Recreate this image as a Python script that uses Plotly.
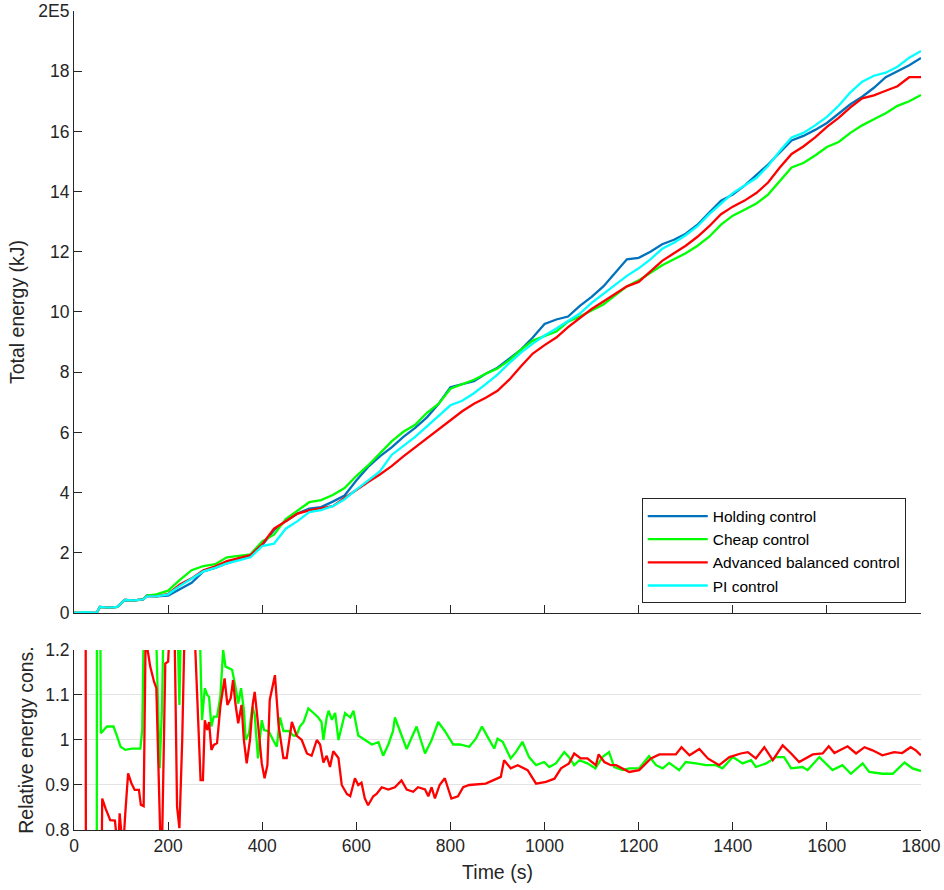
import plotly.graph_objects as go

# ---------------- data ----------------
# top panel: total energy in units of 1e4 kJ
t_top = [0, 25, 48, 55, 75, 92, 108, 128, 147, 155, 175] + list(range(200, 1801, 25))

holding = [0, 0, 0, 0.2, 0.18, 0.2, 0.43, 0.42, 0.45, 0.58, 0.55,
           0.58, 0.8, 1.0, 1.38, 1.5, 1.65, 1.78, 1.9, 2.25, 2.75, 3.05, 3.3, 3.47,
           3.52, 3.7, 3.9, 4.4, 4.85, 5.2, 5.5, 5.85, 6.15, 6.5, 6.95, 7.5, 7.6,
           7.7, 7.95, 8.15, 8.45, 8.75, 9.15, 9.6, 9.75, 9.85, 10.2, 10.5, 10.85,
           11.3, 11.75, 11.8, 12.0, 12.25, 12.4, 12.6, 12.9, 13.3, 13.7, 13.9,
           14.2, 14.55, 14.9, 15.3, 15.7, 15.85, 16.05, 16.28, 16.6, 16.9, 17.15,
           17.45, 17.8, 18.0, 18.2, 18.44]
cheap = [0, 0, 0, 0.2, 0.18, 0.2, 0.43, 0.42, 0.45, 0.58, 0.62,
         0.74, 1.1, 1.42, 1.56, 1.62, 1.85, 1.9, 1.95, 2.38, 2.6, 3.12, 3.4, 3.68,
         3.75, 3.92, 4.15, 4.55, 4.9, 5.3, 5.7, 6.02, 6.25, 6.65, 6.95, 7.45, 7.6,
         7.75, 7.95, 8.12, 8.4, 8.75, 9.05, 9.2, 9.35, 9.68, 9.85, 10.05, 10.25,
         10.55, 10.85, 11.05, 11.3, 11.55, 11.75, 11.95, 12.2, 12.5, 12.9, 13.2,
         13.4, 13.6, 13.9, 14.35, 14.8, 14.95, 15.2, 15.48, 15.65, 15.95, 16.2,
         16.4, 16.6, 16.85, 17.0, 17.21]
advanced = [0, 0, 0, 0.2, 0.18, 0.2, 0.43, 0.42, 0.45, 0.55, 0.55,
            0.63, 0.95, 1.15, 1.42, 1.55, 1.72, 1.82, 1.92, 2.28, 2.8, 3.05, 3.3, 3.41,
            3.48, 3.55, 3.82, 4.1, 4.35, 4.6, 4.88, 5.2, 5.5, 5.8, 6.1, 6.4, 6.7,
            6.95, 7.15, 7.38, 7.75, 8.2, 8.62, 8.9, 9.15, 9.5, 9.8, 10.1, 10.35,
            10.6, 10.85, 11.0, 11.35, 11.7, 11.95, 12.2, 12.5, 12.85, 13.25, 13.5,
            13.7, 13.95, 14.3, 14.8, 15.25, 15.5, 15.8, 16.15, 16.45, 16.8, 17.1,
            17.2, 17.35, 17.5, 17.8, 17.8]
pi_ctrl = [0, 0.03, 0, 0.2, 0.18, 0.2, 0.43, 0.42, 0.45, 0.55, 0.55,
           0.62, 0.9, 1.15, 1.38, 1.5, 1.65, 1.75, 1.85, 2.22, 2.3, 2.8, 3.05, 3.35,
           3.42, 3.55, 3.78, 4.1, 4.4, 4.7, 5.25, 5.55, 5.85, 6.2, 6.55, 6.9, 7.05,
           7.3, 7.6, 7.92, 8.3, 8.65, 8.95, 9.22, 9.45, 9.7, 9.95, 10.3, 10.6,
           10.9, 11.2, 11.45, 11.75, 12.1, 12.3, 12.55, 12.85, 13.25, 13.6, 13.95,
           14.2, 14.45, 14.85, 15.35, 15.8, 15.95, 16.2, 16.48, 16.85, 17.3, 17.65,
           17.85, 17.95, 18.15, 18.45, 18.67]

# bottom panel: relative energy consumption
t_rel_adv = [24, 25.5, 55, 60, 67, 77, 87, 89, 95, 97, 101, 106, 109, 115, 122, 129, 138,
             142, 148, 153, 155, 162, 170, 175, 184, 187, 194, 200, 206, 213, 219, 224,
             230, 236, 254, 262, 269, 274, 278, 283, 287, 292, 297, 304, 311, 320, 326,
             333, 338, 343, 349, 356, 361, 367, 374, 380, 384, 391, 399, 405, 411, 416,
             421, 427, 435, 445, 452, 463, 473, 484, 495, 505, 516, 523, 530, 537, 544,
             551, 562, 569, 580, 587, 597, 604, 611, 618, 625, 636, 643, 654, 668, 682,
             696, 707, 721, 731, 746, 753, 760, 767, 777, 788, 802, 816, 827, 840, 875,
             897, 907, 914, 928, 943, 964, 982, 1003, 1021, 1035, 1052, 1063, 1077, 1091,
             1109, 1115, 1127, 1141, 1152, 1180, 1201, 1226, 1244, 1279, 1291, 1308, 1329,
             1347, 1371, 1393, 1417, 1432, 1449, 1467, 1485, 1506, 1524, 1541, 1570, 1591,
             1604, 1616, 1644, 1662, 1680, 1697, 1718, 1743, 1760, 1778, 1789, 1800]
rel_adv = [2.5, 0.3, 0.3, 0.87, 0.848, 0.822, 0.821, 0.80, 0.78, 0.837, 0.79, 0.785, 0.837,
           0.926, 0.904, 0.889, 0.889, 0.856, 0.853, 1.3, 1.21, 1.163, 1.13, 1.115, 0.76,
           0.76, 1.17, 1.174, 1.3, 1.3, 0.852, 0.804, 1.0, 1.3, 1.3, 1.074, 0.911, 0.911,
           1.044, 1.022, 1.04, 0.978, 0.989, 0.993, 1.074, 1.137, 1.078, 1.093, 1.133,
           1.081, 1.037, 1.078, 1.0, 0.948, 1.0, 1.081, 1.107, 1.037, 0.948, 0.915, 0.944,
           1.089, 1.111, 1.144, 1.03, 0.96, 0.96, 1.04, 1.01, 1.0, 0.97, 0.965, 1.0, 0.99,
           0.95, 0.965, 0.94, 0.975, 0.96, 0.9, 0.88, 0.875, 0.915, 0.9, 0.905, 0.87, 0.855,
           0.875, 0.88, 0.895, 0.89, 0.895, 0.91, 0.89, 0.885, 0.895, 0.89, 0.875, 0.895,
           0.87, 0.9, 0.915, 0.87, 0.875, 0.895, 0.9, 0.903, 0.914, 0.918, 0.955, 0.937,
           0.944, 0.933, 0.903, 0.907, 0.914, 0.937, 0.948, 0.970, 0.959, 0.959, 0.944,
           0.968, 0.951, 0.944, 0.944, 0.929, 0.933, 0.959, 0.968, 0.968, 0.984, 0.966,
           0.98, 0.959, 0.944, 0.962, 0.97, 0.973, 0.959, 0.984, 0.955, 0.988, 0.97, 0.951,
           0.968, 0.97, 0.986, 0.971, 0.986, 0.97, 0.984, 0.977, 0.966, 0.973, 0.971, 0.984,
           0.977, 0.966]

t_rel_cheap = [48, 49.5, 53, 57, 70, 84, 92, 99, 109, 123, 141, 145, 149, 173, 182, 187, 191,
               219, 224, 228, 266, 272, 278, 283, 287, 292, 297, 304, 311, 317, 322, 336,
               343, 349, 355, 361, 365, 372, 379, 384, 391, 399, 404, 414, 425, 431, 438,
               445, 456, 466, 473, 480, 488, 498, 509, 519, 526, 530, 537, 541, 548, 555,
               562, 576, 587, 594, 604, 618, 633, 647, 657, 668, 678, 682, 689, 707, 728,
               746, 760, 774, 788, 806, 820, 840, 854, 867, 879, 893, 900, 911, 928, 939,
               953, 967, 982, 999, 1010, 1024, 1042, 1052, 1063, 1074, 1091, 1108, 1123,
               1137, 1148, 1166, 1180, 1201, 1222, 1237, 1251, 1265, 1286, 1300, 1322, 1343,
               1364, 1378, 1400, 1421, 1439, 1449, 1471, 1492, 1509, 1524, 1548, 1559, 1584,
               1612, 1633, 1651, 1676, 1690, 1718, 1740, 1765, 1782, 1800]
rel_cheap = [0.3, 2.0, 2.0, 1.015, 1.03, 1.03, 1.007, 0.985, 0.978, 0.981, 0.981, 1.022, 1.3,
             1.3, 0.937, 1.07, 1.3, 1.3, 1.078, 1.3, 1.3, 1.044, 1.115, 1.1, 1.096, 1.03,
             1.052, 1.052, 1.096, 1.2, 1.163, 1.156, 1.119, 1.081, 1.115, 1.067, 1.0, 1.015,
             1.074, 1.056, 0.959, 1.044, 1.022, 1.019, 0.996, 0.985, 1.05, 1.02, 1.02, 1.01,
             1.01, 1.03, 1.04, 1.07, 1.06, 1.05, 1.04, 1.0, 1.05, 1.065, 1.045, 1.06, 1.0,
             1.06, 1.05, 1.065, 1.01, 1.0, 0.99, 0.995, 0.965, 0.99, 1.02, 1.05, 1.03, 0.98,
             1.03, 0.97, 1.0, 1.04, 1.02, 0.99, 0.99, 0.985, 1.003, 1.03, 1.007, 0.981, 1.003,
             0.996, 0.959, 0.973, 0.996, 0.962, 0.944, 0.951, 0.94, 0.948, 0.973, 0.962,
             0.944, 0.955, 0.948, 0.937, 0.962, 0.973, 0.94, 0.933, 0.937, 0.937, 0.964,
             0.944, 0.937, 0.949, 0.933, 0.951, 0.948, 0.944, 0.944, 0.937, 0.962, 0.948,
             0.955, 0.94, 0.948, 0.962, 0.962, 0.937, 0.94, 0.933, 0.962, 0.933, 0.944,
             0.925, 0.948, 0.929, 0.925, 0.925, 0.95, 0.937, 0.931]

x_ticks = [0, 200, 400, 600, 800, 1000, 1200, 1400, 1600, 1800]
y_top_ticks = [0, 2, 4, 6, 8, 10, 12, 14, 16, 18, 20]
y_top_labels = ["0", "2", "4", "6", "8", "10", "12", "14", "16", "18", "2E5"]
y_bot_ticks = [0.8, 0.9, 1.0, 1.1, 1.2]
y_bot_labels = ["0.8", "0.9", "1", "1.1", "1.2"]

names = ["Holding control", "Cheap control", "Advanced balanced control", "PI control"]
colors = ["#0072BD", "#00FF00", "#FF0000", "#00FFFF"]

# ---------------- figure ----------------
FONT = "Liberation Sans, Arial, sans-serif"
AX = "#262626"
TICK_SIZE = 17.5
TITLE_SIZE = 19.5

fig = go.Figure()
for name, col, ys in zip(names, colors, [holding, cheap, advanced, pi_ctrl]):
    fig.add_trace(go.Scatter(x=t_top, y=ys, mode="lines", name=name,
                             line=dict(color=col, width=2.3), xaxis="x", yaxis="y"))

fig.add_trace(go.Scatter(x=t_rel_cheap, y=rel_cheap, mode="lines", showlegend=False,
                         line=dict(color=colors[1], width=2.3), xaxis="x2", yaxis="y2"))
fig.add_trace(go.Scatter(x=t_rel_adv, y=rel_adv, mode="lines", showlegend=False,
                         line=dict(color=colors[2], width=2.3), xaxis="x2", yaxis="y2"))

axis_common = dict(showline=True, linecolor=AX, linewidth=1, ticks="inside", ticklen=8,
                   tickcolor=AX, tickwidth=1, zeroline=False, mirror=False,
                   automargin=False,
                   tickfont=dict(family=FONT, size=TICK_SIZE, color=AX))

fig.update_layout(
    width=944, height=890,
    margin=dict(l=74, r=23, t=11, b=60),
    paper_bgcolor="white", plot_bgcolor="white",
    font=dict(family=FONT, size=TICK_SIZE, color=AX),
    xaxis=dict(domain=[0, 1], anchor="y", range=[0, 1800], tickvals=x_ticks,
               showticklabels=False, showgrid=False, **axis_common),
    yaxis=dict(domain=[0.265, 1], anchor="x", range=[0, 20], tickvals=y_top_ticks,
               ticktext=y_top_labels, showgrid=False,
               title=dict(text="Total energy (kJ)",
                          font=dict(family=FONT, size=TITLE_SIZE, color=AX), standoff=8),
               **axis_common),
    xaxis2=dict(domain=[0, 1], anchor="y2", range=[0, 1800], tickvals=x_ticks,
                showgrid=False,
                title=dict(text="Time (s)",
                           font=dict(family=FONT, size=TITLE_SIZE, color=AX), standoff=10),
                **axis_common),
    yaxis2=dict(domain=[0, 0.2198], anchor="x2", range=[0.8, 1.2], tickvals=y_bot_ticks,
                ticktext=y_bot_labels, showgrid=True, gridcolor="#e3e3e3", gridwidth=1,
                title=dict(text="Relative energy cons.",
                           font=dict(family=FONT, size=TITLE_SIZE, color=AX), standoff=6),
                **axis_common),
    legend=dict(x=0.982, y=0.3407, xanchor="right", yanchor="middle",
                bgcolor="white", bordercolor=AX, borderwidth=1,
                font=dict(family=FONT, size=15.5, color="#000000"),
                itemwidth=60, tracegroupgap=0),
)

fig.write_html("out.html")
